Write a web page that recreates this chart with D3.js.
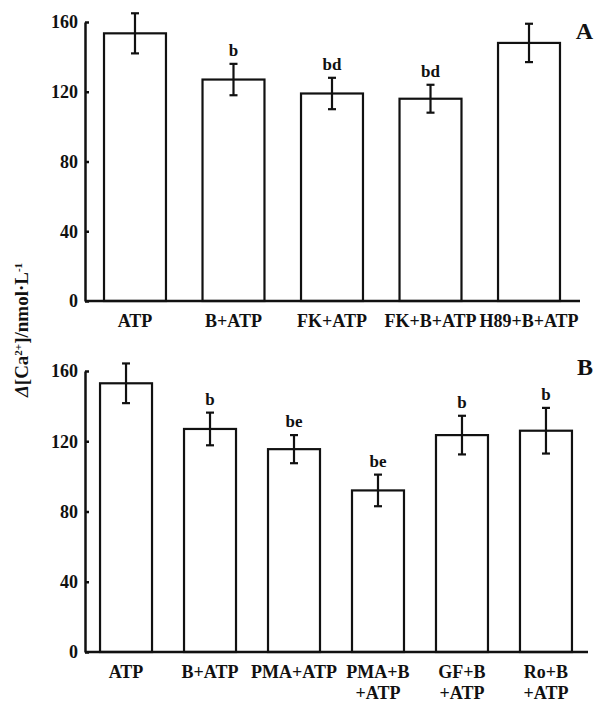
<!DOCTYPE html>
<html>
<head>
<meta charset="utf-8">
<script src="https://cdn.jsdelivr.net/npm/d3@7"></script>
<style>
  body { margin: 0; background: #fff; }
  text { font-family: "Liberation Serif", "Times New Roman", serif; font-weight: bold; fill: #111; }
  .axis path, .axis line { stroke: #111; stroke-width: 2.5; }
  .axis text { font-size: 18px; }
</style>
</head>
<body>
<div class="diagram"></div>
<script>
// panel A
const catsA   = ["ATP", "B+ATP", "FK+ATP", "FK+B+ATP", "H89+B+ATP"];
const meansA  = [153.5, 127, 119, 116, 148];
const errsA   = [11.5, 9, 9, 8, 11];
const marksA  = ["", "b", "bd", "bd", ""];

// panel B
const catsB   = ["ATP", "B+ATP", "PMA+ATP", "PMA+B\n+ATP", "GF+B\n+ATP", "Ro+B\n+ATP"];
const meansB  = [153, 127, 115.5, 92, 123.5, 126];
const errsB   = [11.3, 9.3, 8, 9, 11, 13];
const marksB  = ["", "b", "be", "be", "b", "b"];

const yTicks = [0, 40, 80, 120, 160];

const svg = d3.select(".diagram").append("svg")
    .attr("width", 595)
    .attr("height", 702);

function panel(cats, means, errs, marks, opt) {
  const g = svg.append("g");

  const x = d3.scaleBand()
      .domain(cats)
      .range([opt.left, opt.right])
      .paddingInner(opt.padIn)
      .paddingOuter(opt.padOut);

  const y = d3.scaleLinear().domain([0, 160]).range([opt.bottom, opt.top]);

  const rows = cats.map((c, i) => ({cat: c, v: means[i], e: errs[i], m: marks[i]}));

  // bars
  g.selectAll(".bar")
    .data(rows)
    .enter().append("rect")
      .attr("x", d => x(d.cat))
      .attr("y", d => y(d.v))
      .attr("width", x.bandwidth())
      .attr("height", d => y(0) - y(d.v))
      .style("fill", "#fff")
      .style("stroke", "#111")
      .style("stroke-width", 2.2);

  // error bars
  const eb = g.selectAll(".err")
    .data(rows)
    .enter().append("g")
      .attr("transform", d => "translate(" + (x(d.cat) + x.bandwidth() / 2) + ",0)");
  eb.append("line")
      .attr("y1", d => y(d.v + d.e)).attr("y2", d => y(d.v - d.e))
      .style("stroke", "#111").style("stroke-width", 2.2);
  eb.selectAll(".cap")
    .data(d => [d.v + d.e, d.v - d.e])
    .enter().append("line")
      .attr("x1", -4).attr("x2", 4)
      .attr("y1", d => y(d)).attr("y2", d => y(d))
      .style("stroke", "#111").style("stroke-width", 2.2);

  // significance letters
  g.selectAll(".mark")
    .data(rows)
    .enter().append("text")
      .attr("x", d => x(d.cat) + x.bandwidth() / 2)
      .attr("y", d => y(d.v + d.e) - 8)
      .attr("text-anchor", "middle")
      .style("font-size", "17px")
      .text(d => d.m);

  // y axis
  g.append("g")
      .attr("class", "axis")
      .attr("transform", "translate(" + opt.left + ",0)")
      .call(d3.axisLeft(y).tickValues(yTicks).tickSizeInner(-4).tickSizeOuter(0).tickPadding(7))
      .call(a => a.selectAll("text").style("font-size", "18px"));

  // x baseline
  g.append("line")
      .attr("x1", opt.left).attr("x2", opt.right + 1)
      .attr("y1", y(0)).attr("y2", y(0))
      .style("stroke", "#111").style("stroke-width", 2.5);

  // category labels
  const lab = g.selectAll(".cat")
    .data(cats)
    .enter().append("text")
      .attr("text-anchor", "middle")
      .attr("y", y(0) + 26)
      .style("font-size", "18px");
  lab.selectAll("tspan")
    .data(d => d.split("\n").map(t => ({t: t, c: d})))
    .enter().append("tspan")
      .attr("x", d => x(d.c) + x.bandwidth() / 2)
      .attr("dy", (d, i) => i ? 21 : 0)
      .text(d => d.t);

  // panel letter
  g.append("text")
      .attr("x", 593).attr("y", opt.letterY)
      .attr("text-anchor", "end")
      .style("font-size", "24px")
      .text(opt.letter);
}

panel(catsA, meansA, errsA, marksA,
  {left: 85, right: 579, top: 22, bottom: 301, padIn: 0.371, padOut: 0.193, letter: "A", letterY: 39});
panel(catsB, meansB, errsB, marksB,
  {left: 85, right: 587, top: 371, bottom: 652, padIn: 0.381, padOut: 0.179, letter: "B", letterY: 375});

// y title
const yt = svg.append("text")
    .attr("transform", "translate(28,330) rotate(-90)")
    .attr("text-anchor", "middle")
    .style("font-size", "19px");
yt.append("tspan").style("font-style", "italic").text("Δ");
yt.append("tspan").text("[Ca");
yt.append("tspan").attr("baseline-shift", "super").style("font-size", "11px").text("2+");
yt.append("tspan").text("]/nmol·L");
yt.append("tspan").attr("baseline-shift", "super").style("font-size", "11px").text("-1");
</script>
</body>
</html>
